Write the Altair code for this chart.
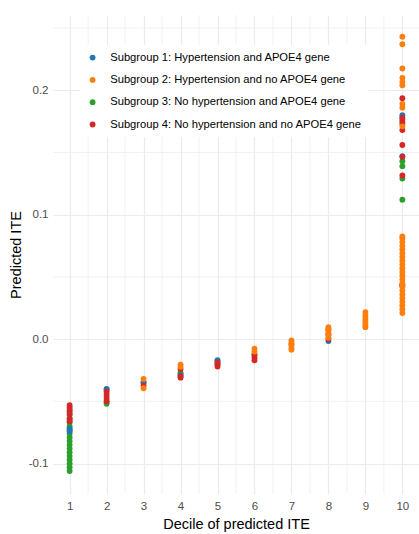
import altair as alt
import pandas as pd

# Subgroup labels and colours
groups = [
    "Subgroup 1: Hypertension and APOE4 gene",
    "Subgroup 2: Hypertension and no APOE4 gene",
    "Subgroup 3: No hypertension and APOE4 gene",
    "Subgroup 4: No hypertension and no APOE4 gene",
]
colors = ["#1f77b4", "#ff7f0e", "#2ca02c", "#d62728"]

# Subgroup 1 (blue)
sg1_decile = [1, 1, 2, 2, 3, 3, 4, 5, 5, 8, 10, 10, 10]
sg1_ite = [-0.074, -0.072, -0.040, -0.0405, -0.0350, -0.0347, -0.029,
           -0.017, -0.0175, -0.0016, 0.180, 0.177, 0.147]

# Subgroup 2 (orange)
sg2_decile = ([3, 3, 4, 4, 6, 6] + [7] * 5 + [8] * 5 + [9] * 7
              + [10] * 22 + [10] * 9)
sg2_ite = [-0.0320, -0.0395, -0.0222, -0.0205, -0.0076, -0.010,
           -0.001, -0.003, -0.005, -0.007, -0.0085,
           0.0096, 0.007, 0.005, 0.003, 0.001,
           0.0217, 0.019, 0.017, 0.015, 0.013, 0.011, 0.0096,
           0.021, 0.024, 0.027, 0.030, 0.033, 0.036, 0.039, 0.042, 0.045,
           0.048, 0.051, 0.054, 0.057, 0.060, 0.063, 0.066, 0.069, 0.072,
           0.075, 0.078, 0.081, 0.0825,
           0.243, 0.237, 0.2175, 0.210, 0.2067, 0.204, 0.189, 0.186, 0.171]

# Subgroup 3 (green)
sg3_decile = [1] * 17 + [2, 2, 4, 4, 5, 6, 10, 10, 10, 10]
sg3_ite = [-0.058, -0.061, -0.064, -0.067, -0.070, -0.073, -0.076, -0.079,
           -0.082, -0.085, -0.088, -0.091, -0.094, -0.097, -0.100, -0.103,
           -0.106,
           -0.052, -0.0505, -0.027, -0.028, -0.020, -0.012,
           0.143, 0.139, 0.129, 0.112]

# Subgroup 4 (red)
sg4_decile = ([1] * 6 + [2] * 5 + [3] + [4] * 3 + [5] * 3 + [6] * 3 + [7]
              + [8] * 3 + [10] * 10)
sg4_ite = [-0.053, -0.055, -0.057, -0.060, -0.064, -0.066,
           -0.042, -0.044, -0.046, -0.048, -0.050,
           -0.0375,
           -0.0240, -0.031, -0.030,
           -0.019, -0.0205, -0.022,
           -0.013, -0.015, -0.017,
           -0.004,
           0.008, 0.004, 0.000,
           0.043, 0.0435, 0.1936, 0.178, 0.175, 0.173, 0.168, 0.156, 0.1465,
           0.1315]

x_major = list(range(1, 11))
x_minor = [1.5, 2.5, 3.5, 4.5, 5.5, 6.5, 7.5, 8.5, 9.5]
y_major = [-0.1, 0.0, 0.1, 0.2]
y_minor = [-0.05, 0.05, 0.15, 0.25]

rows = []
# drawing order: green, blue, red, orange
for g, dec, val in [(2, sg3_decile, sg3_ite), (0, sg1_decile, sg1_ite),
                    (3, sg4_decile, sg4_ite), (1, sg2_decile, sg2_ite)]:
    for d, v in zip(dec, val):
        rows.append({"decile": d, "ite": v, "group": groups[g]})
df = pd.DataFrame(rows)

FONT = "Liberation Sans"
xdom = [0.55, 10.45]
ydom = [-0.1245, 0.2605]
xscale = alt.Scale(domain=xdom, nice=False, zero=False)
yscale = alt.Scale(domain=ydom, nice=False, zero=False)

xaxis = alt.Axis(values=x_major, format="d", title="Decile of predicted ITE",
                 grid=True, gridColor="#EBEBEB", gridWidth=1.2,
                 domain=False, ticks=False, labelPadding=6,
                 labelColor="#4D4D4D", labelFontSize=11.5, labelFont=FONT,
                 titleFont=FONT, titleFontSize=14.5, titleFontWeight="normal",
                 titleColor="black", titlePadding=6)
yaxis = alt.Axis(values=y_major,
                 labelExpr="replace(format(datum.value, '.1f'), '\u2212', '-')",
                 title="Predicted ITE",
                 grid=True, gridColor="#EBEBEB", gridWidth=1.2,
                 domain=False, ticks=False, labelPadding=5,
                 labelColor="#4D4D4D", labelFontSize=11.5, labelFont=FONT,
                 titleFont=FONT, titleFontSize=14.5, titleFontWeight="normal",
                 titleColor="black", titlePadding=5)

vminor = alt.Chart(pd.DataFrame({"decile": x_minor})).mark_rule(
    color="#EBEBEB", strokeWidth=0.7
).encode(x=alt.X("decile:Q", scale=xscale, axis=xaxis))
hminor = alt.Chart(pd.DataFrame({"ite": y_minor})).mark_rule(
    color="#EBEBEB", strokeWidth=0.7
).encode(y=alt.Y("ite:Q", scale=yscale, axis=yaxis))

points = alt.Chart(df).mark_circle(size=34, opacity=1).encode(
    x=alt.X("decile:Q", scale=xscale, axis=xaxis),
    y=alt.Y("ite:Q", scale=yscale, axis=yaxis),
    color=alt.Color("group:N", scale=alt.Scale(domain=groups, range=colors),
                    legend=alt.Legend(orient="none", legendX=27, legendY=30,
                                      title=None, fillColor="white", padding=7,
                                      symbolType="circle", symbolSize=34,
                                      symbolStrokeWidth=0, labelFont=FONT,
                                      labelFontSize=11.2, labelColor="black",
                                      labelOffset=12, rowPadding=10.3,
                                      labelLimit=400)),
)

chart = alt.layer(vminor, hminor, points).properties(
    width=366, height=479,
    padding={"left": 53, "top": 15, "right": 0, "bottom": 40},
    autosize=alt.AutoSizeParams(type="none"),
    background="white",
).configure_view(stroke=None)

chart.save("out.html", embed_options={"renderer": "svg", "actions": False})
